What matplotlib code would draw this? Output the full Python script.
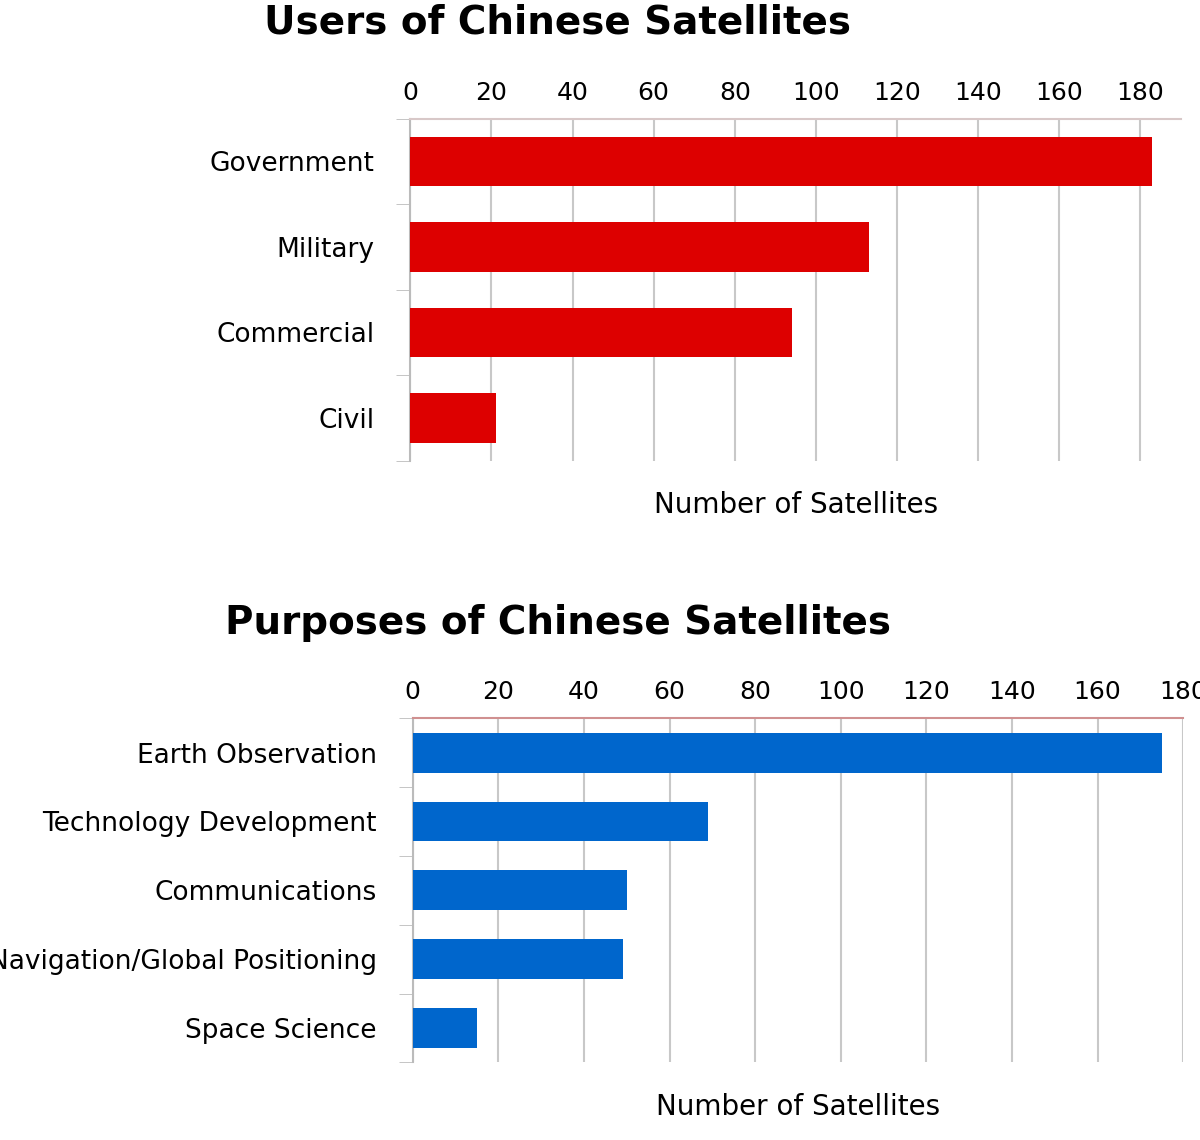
import matplotlib.pyplot as plt
import numpy as np

user_cats = ["Government", "Military", "Commercial", "Civil"]
user_vals = [183, 113, 94, 21]
purpose_cats = ["Earth Observation", "Technology Development", "Communications",
                "Navigation/Global Positioning", "Space Science"]
purpose_vals = [175, 69, 50, 49, 15]

plt.rcParams['font.family'] = ['DejaVu Sans']

fig = plt.figure(figsize=(12, 11.4), dpi=100)


def draw(rect, cats, vals, color, title, title_y, xmax, topcolor):
    ax = fig.add_axes(rect)
    y = np.arange(len(cats))
    ax.barh(y, vals, height=0.58, color=color, zorder=3)
    ax.set_ylim(len(cats) - 0.5, -0.5)
    ax.set_xlim(0, xmax)
    ax.set_xticks(range(0, 181, 20))
    ax.xaxis.tick_top()
    ax.tick_params(axis='x', length=0, labelsize=18, pad=10)
    ax.set_yticks(y)
    ax.set_yticklabels(cats, fontsize=19)
    ax.tick_params(axis='y', length=0, pad=26)
    ax.set_yticks(np.arange(len(cats) + 1) - 0.5, minor=True)
    ax.tick_params(axis='y', which='minor', length=10, color='#bbbbbb')
    ax.grid(axis='x', color='#c8c8c8', lw=1.5, zorder=0)
    for s in ['right', 'bottom']:
        ax.spines[s].set_visible(False)
    ax.spines['left'].set_color('#bbbbbb')
    ax.spines['left'].set_linewidth(1.5)
    ax.spines['top'].set_color(topcolor)
    ax.spines['top'].set_linewidth(1.5)
    ax.set_xlabel("Number of Satellites", fontsize=20, labelpad=22)
    ax.xaxis.set_label_position('bottom')
    fig.text(0.465, title_y, title, fontsize=28, fontweight='heavy',
             ha='center', va='center')
    return ax


draw([0.342, 0.596, 0.642, 0.300], user_cats, user_vals, '#dd0000',
     "Users of Chinese Satellites", 1 - 22 / 1140, 190, '#d8c8c8')
draw([0.344, 0.068, 0.642, 0.302], purpose_cats, purpose_vals, '#0066cc',
     "Purposes of Chinese Satellites", 1 - 623 / 1140, 180, '#d09090')

fig.savefig("out.png")
